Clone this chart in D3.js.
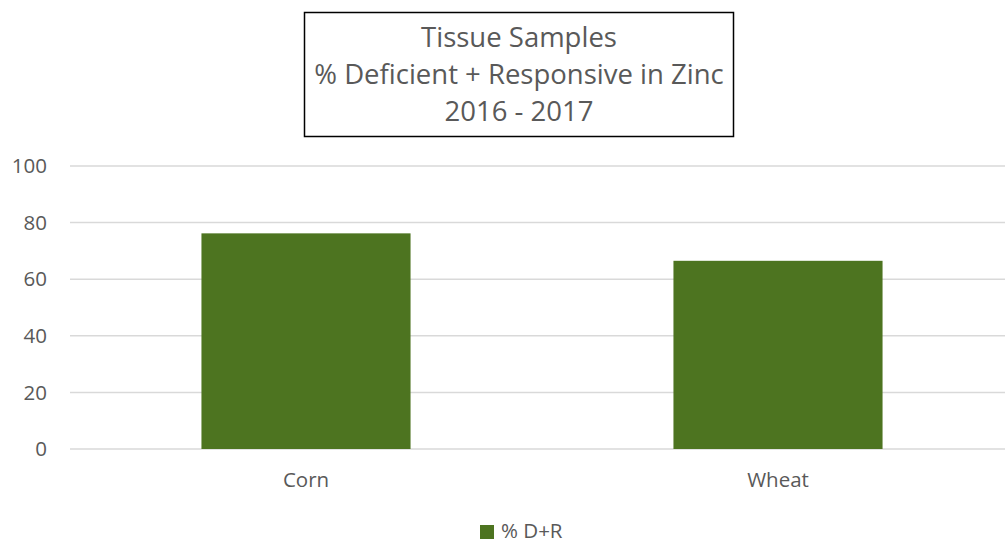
<!DOCTYPE html>
<html>
<head>
<meta charset="utf-8">
<script src="https://cdn.jsdelivr.net/npm/d3@7"></script>
<style>
  body { margin: 0; background: #fff; }
  text { font-family: "Open Sans", sans-serif; fill: #595959; }
</style>
</head>
<body>
<div id="chart"></div>
<script>
// data
var categories = ["Corn", "Wheat"];
var values = [76.2, 66.5];
var seriesName = "% D+R";
var yTicks = [0, 20, 40, 60, 80, 100];
var titleLines = ["Tissue Samples", "% Deficient + Responsive in Zinc", "2016 - 2017"];

var W = 1005, H = 544;

var svg = d3.select("#chart").append("svg")
    .attr("width", W)
    .attr("height", H);

var x = d3.scaleBand()
    .domain(categories)
    .range([70, 1014])
    .paddingInner(0.557)
    .paddingOuter(0.2785);

var y = d3.scaleLinear()
    .domain([0, 100])
    .range([449, 166]);

// gridlines
svg.append("g").selectAll("line")
    .data(yTicks)
    .enter().append("line")
    .attr("x1", 70)
    .attr("x2", 1005)
    .attr("y1", function(d) { return y(d); })
    .attr("y2", function(d) { return y(d); })
    .attr("stroke", "#d9d9d9")
    .attr("stroke-width", 1.5);

// y tick labels
svg.append("g").selectAll("text")
    .data(yTicks)
    .enter().append("text")
    .attr("x", 47)
    .attr("y", function(d) { return y(d); })
    .attr("dy", "0.35em")
    .attr("text-anchor", "end")
    .style("font-size", "20.5px")
    .text(function(d) { return d; });

// bars
svg.append("g").selectAll("rect")
    .data(values)
    .enter().append("rect")
    .attr("x", function(d, i) { return x(categories[i]); })
    .attr("width", x.bandwidth())
    .attr("y", function(d) { return y(d); })
    .attr("height", function(d) { return y(0) - y(d); })
    .attr("fill", "#4d7420");

// category labels
svg.append("g").selectAll("text")
    .data(categories)
    .enter().append("text")
    .attr("x", function(d) { return x(d) + x.bandwidth() / 2; })
    .attr("y", 487)
    .attr("text-anchor", "middle")
    .style("font-size", "20.5px")
    .text(function(d) { return d; });

// title box
svg.append("rect")
    .attr("x", 304.5)
    .attr("y", 12.5)
    .attr("width", 429)
    .attr("height", 124)
    .attr("fill", "#fff")
    .attr("stroke", "#000")
    .attr("stroke-width", 1.5);

svg.append("g").selectAll("text")
    .data(titleLines)
    .enter().append("text")
    .attr("x", 519)
    .attr("y", function(d, i) { return 47 + i * 37; })
    .attr("text-anchor", "middle")
    .style("font-size", "27.5px")
    .text(function(d) { return d; });

// legend
var legend = svg.append("g").attr("transform", "translate(480,525)");
legend.append("rect")
    .attr("width", 14)
    .attr("height", 14)
    .attr("fill", "#4d7420");
legend.append("text")
    .attr("x", 21)
    .attr("y", 13)
    .style("font-size", "20.5px")
    .text(seriesName);
</script>
</body>
</html>
